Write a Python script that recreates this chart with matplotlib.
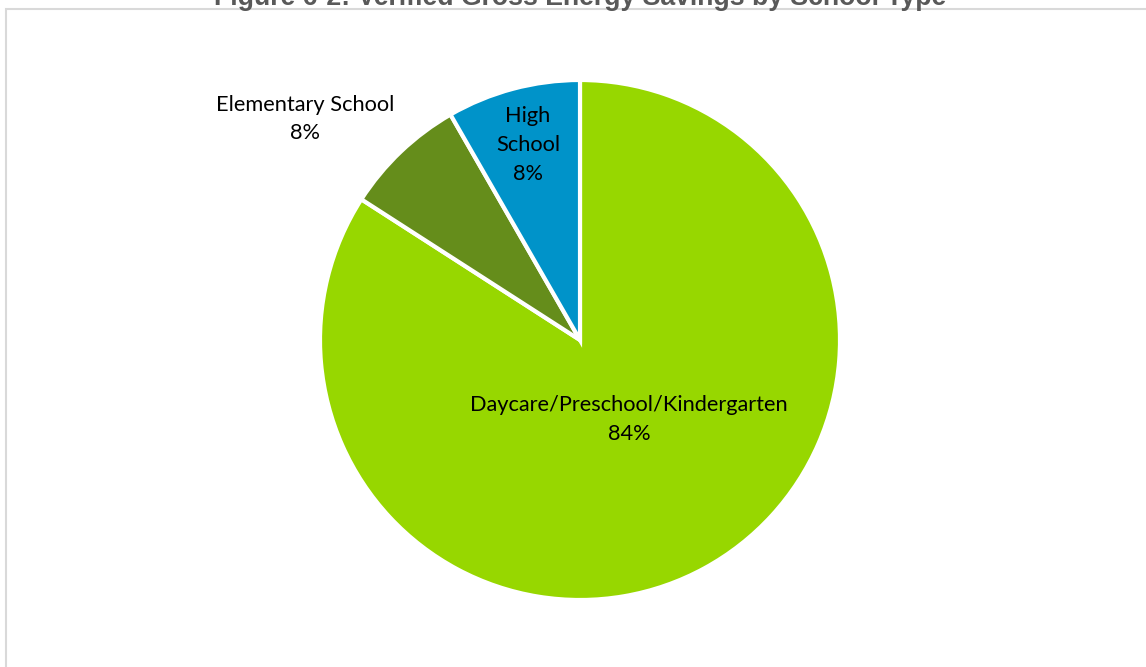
import matplotlib.pyplot as plt
from matplotlib.patches import Rectangle

# datos
categorias = ['Daycare/Preschool/Kindergarten', 'Elementary School', 'High School']
valores = [84.1, 7.6, 8.3]
etiquetas = ['Daycare/Preschool/Kindergarten\n84%', 'Elementary School\n8%', 'High\nSchool\n8%']
colores = ['#97D700', '#658D1B', '#0093C9']

W, H = 1146, 667
cx, cy, r = 580, 340, 260

fig = plt.figure(figsize=(W / 100, H / 100), dpi=100)
ax = fig.add_axes([0, 0, 1, 1])

ax.pie(valores, colors=colores, startangle=90, counterclock=False,
       wedgeprops=dict(edgecolor='white', linewidth=3))
ax.set_aspect('equal')
ax.set_xlim(-cx / r, (W - cx) / r)
ax.set_ylim(-(H - cy) / r, cy / r)
ax.axis('off')

# posiciones de etiquetas
pos = [(0.188, -0.306), (-1.058, 0.85), (-0.20, 0.75)]
for (x, y), t in zip(pos, etiquetas):
    ax.text(x, y, t, ha='center', va='center', fontsize=15.7, family='Lato',
            color='black', linespacing=1.55)

# marco
fig.patches.append(Rectangle((6 / W, -0.1), 1.2, 1 - 8.5 / H + 0.1,
                             transform=fig.transFigure, fill=False,
                             edgecolor='#D9D9D9', linewidth=1.5))

fig.text(580 / W, 1 - 5 / H, 'Figure 6-2: Verified Gross Energy Savings by School Type',
         ha='center', va='baseline', fontsize=19.2, fontweight='bold',
         family='Liberation Sans', color='#595959')

fig.savefig('out.png', dpi=100)
